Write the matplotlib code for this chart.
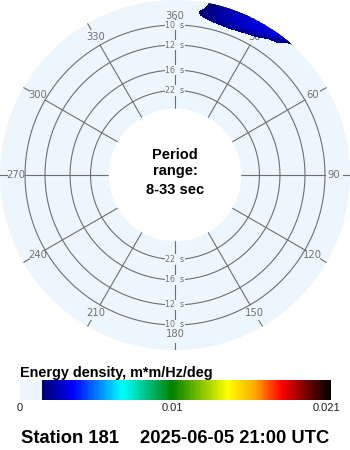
import numpy as np
import matplotlib
matplotlib.use("Agg")
import matplotlib.pyplot as plt
from matplotlib.colors import LinearSegmentedColormap, Normalize
from matplotlib.cm import ScalarMappable

# ---------------- data ----------------
station = "Station 181"
timestamp = "2025-06-05 21:00 UTC"
cbar_title = "Energy density, m*m/Hz/deg"
period_min, period_max = 8, 33            # s
period_rings = [22, 16, 12, 10]          # s
dir_labels = [30, 60, 90, 120, 150, 180, 210, 240, 270, 300, 330, 360]
vmax = 0.021
cbar_ticks = [0.0, 0.0103, 0.0207]
cbar_ticklabels = ["0", "0.01", "0.021"]

spec_dirs = [0, 5, 10, 15, 20, 25, 30, 35, 40, 45, 50]                 # deg (from)
spec_freqs = [0.1000, 0.1025, 0.1050, 0.1075, 0.1100,
              0.1125, 0.1150, 0.1175, 0.1200, 0.1225]                  # Hz
energy = [
    [0.0002, 0.0002, 0.0004, 0.0004, 0.0005, 0.0004, 0.0003, 0.0002, 0.0001, 0.0001, 0.0001],
    [0.0002, 0.0003, 0.0006, 0.0008, 0.0009, 0.0007, 0.0005, 0.0003, 0.0002, 0.0001, 0.0001],
    [0.0002, 0.0005, 0.0009, 0.0011, 0.0013, 0.0011, 0.0008, 0.0005, 0.0003, 0.0002, 0.0001],
    [0.0002, 0.0007, 0.0012, 0.0018, 0.0022, 0.0017, 0.0012, 0.0007, 0.0004, 0.0003, 0.0001],
    [0.0002, 0.0009, 0.0016, 0.0021, 0.0025, 0.0025, 0.0018, 0.0009, 0.0005, 0.0003, 0.0001],
    [0.0002, 0.0010, 0.0017, 0.0022, 0.0026, 0.0028, 0.0027, 0.0012, 0.0007, 0.0004, 0.0001],
    [0.0002, 0.0009, 0.0015, 0.0022, 0.0026, 0.0029, 0.0030, 0.0022, 0.0009, 0.0004, 0.0001],
    [0.0002, 0.0008, 0.0014, 0.0022, 0.0026, 0.0030, 0.0031, 0.0030, 0.0012, 0.0005, 0.0001],
    [0.0002, 0.0007, 0.0013, 0.0021, 0.0025, 0.0030, 0.0032, 0.0033, 0.0016, 0.0005, 0.0001],
    [0.0002, 0.0006, 0.0012, 0.0020, 0.0025, 0.0029, 0.0032, 0.0034, 0.0025, 0.0006, 0.0001],
]

# ---------------- style ----------------
W, H = 350, 450
disk_color = "#eef6fd"
grid_color = "#6e6e6e"
label_color = "#707070"
threshold_frac = 0.0675  # below this fraction of vmax energy is shown as background

cmap = LinearSegmentedColormap.from_list("cdip", [
    (0.0, disk_color), (threshold_frac, disk_color),
    (threshold_frac, "#00006a"), (0.170, "#0000ff"), (0.328, "#00ffff"),
    (0.489, "#008000"), (0.669, "#ffff00"), (0.758, "#ffa500"),
    (0.842, "#ff0000"), (0.916, "#800000"), (1.0, "#000000")])
norm = Normalize(0, vmax)

# radius (pixel) = a + b*freq
b_px = 1200.8
a_px = 29.9
f_inner = 1.0 / period_max
f_outer = (175 - a_px) / b_px
def f_at(rpx):
    return (rpx - a_px) / b_px

fig = plt.figure(figsize=(W / 100, H / 100), dpi=100)
ax = fig.add_axes([0, (H - 350) / H, 350 / W, 350 / H], projection="polar")
ax.set_theta_zero_location("N")
ax.set_theta_direction(-1)
ax.set_rorigin(-a_px / b_px)
ax.set_ylim(f_inner, f_outer)
ax.set_facecolor(disk_color)
ax.patch.set_edgecolor("none")
ax.patch.set_linewidth(0)
ax.grid(False)
ax.set_xticks([])
ax.set_yticks([])
for sp in ax.spines.values():
    sp.set_visible(False)
    sp.set_linewidth(0)

lw = 0.8
th_full = np.linspace(0, 2 * np.pi, 721)
for T in period_rings:
    ax.plot(th_full, np.full_like(th_full, 1.0 / T), color=grid_color, lw=lw, zorder=2)

for d in range(0, 360, 30):
    t = np.deg2rad(d)
    ax.plot([t, t], [f_inner, 1.0 / period_rings[-1]], color=grid_color, lw=lw, zorder=2)
    if d == 0:
        ax.plot([t, t], [1.0 / period_rings[-1], f_at(156)], color=grid_color, lw=lw, zorder=2)
    else:
        ax.plot([t, t], [f_at(168), f_outer], color=grid_color, lw=lw, zorder=2)

for d in dir_labels:
    ax.text(np.deg2rad(d), f_at(159), str(d), ha="center", va="center",
            color=label_color, fontsize=7.2, family="DejaVu Sans", zorder=5)

for T in period_rings:
    for t in (0, np.pi):
        ax.text(t, 1.0 / T, f"{T}  s", ha="center", va="center", color=label_color,
                fontsize=5.7, family="DejaVu Sans", zorder=4,
                bbox=dict(facecolor=disk_color, edgecolor="none", pad=0.6))

# spectrum
TH, FF = np.meshgrid(np.deg2rad(spec_dirs), spec_freqs)
E = np.array(energy)
levels = np.linspace(threshold_frac * vmax, vmax, 240)
cs = ax.contourf(TH, FF, E, levels=levels, cmap=cmap, norm=norm, zorder=6, antialiased=False)
cs.set_edgecolor("face")
cs.set_linewidth(0.3)

# centre text
def fx(x):
    return x / W
def fy(y):
    return 1 - y / H
bold = dict(family="Liberation Sans", weight="bold")
fig.text(fx(175), fy(159), "Period", ha="center", va="baseline", fontsize=10.5, **bold)
fig.text(fx(175), fy(174.5), "range:", ha="center", va="baseline", fontsize=10.5, **bold)
fig.text(fx(175), fy(194), f"{period_min}-{period_max} sec", ha="center", va="baseline",
         fontsize=10.5, **bold)

# colorbar
cax = fig.add_axes([20 / W, (H - 400) / H, 311 / W, 20 / H])
cb = fig.colorbar(ScalarMappable(norm=norm, cmap=cmap), cax=cax, orientation="horizontal")
cb.outline.set_visible(False)
cb.set_ticks(cbar_ticks)
cb.set_ticklabels(cbar_ticklabels)
cax.tick_params(length=0, pad=2.5, labelsize=8)
for lab in cax.get_xticklabels():
    lab.set_family("Liberation Sans")
    lab.set_color("#202020")

fig.text(fx(20), fy(377), cbar_title, ha="left", va="baseline", fontsize=10.4, **bold)
fig.text(fx(21), fy(443), station, ha="left", va="baseline", fontsize=13.2, **bold)
fig.text(fx(140), fy(443), timestamp, ha="left", va="baseline", fontsize=13.2, **bold)

fig.savefig("out.png", dpi=100, facecolor="white")
